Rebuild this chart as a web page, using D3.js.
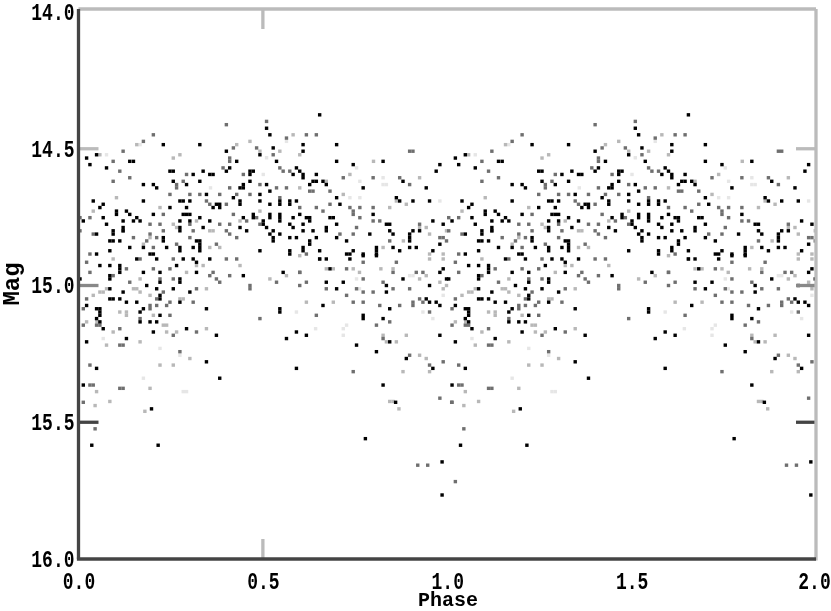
<!DOCTYPE html>
<html>
<head>
<meta charset="utf-8">
<script src="https://d3js.org/d3.v7.min.js"></script>
<style>
  html, body { margin: 0; padding: 0; background: #fff; overflow: hidden; }
  text { font-family: "Liberation Mono", monospace; font-weight: bold; fill: #000; }
</style>
</head>
<body>
<div id="my_dataviz"></div>
<script>
// Phased light curve, the phase 0-1 points are plotted again at 1-2
const phaseTicks = [0, 0.5, 1, 1.5, 2]
const magTicks = [14, 14.5, 15, 15.5, 16]

// [phase, mag], grouped by how dark the dot came out
const blackDots = [
  [.510,14.425],[.230,14.485],[.329,14.485],[.401,14.509],[.049,14.522],[.492,14.522],[.022,14.534],[.139,14.546],[.149,14.546],[.429,14.546],
  [.031,14.558],[.076,14.570],[.410,14.570],[.401,14.582],[.248,14.582],[.257,14.582],[.338,14.582],[.465,14.582],[.474,14.582],[.311,14.594],
  [.356,14.594],[.365,14.594],[.465,14.594],[.257,14.619],[.329,14.619],[.465,14.619],[.176,14.631],[.203,14.631],[.293,14.631],[.447,14.631],
  [.510,14.631],[.212,14.643],[.438,14.643],[.447,14.643],[.347,14.667],[.492,14.667],[.420,14.679],[.040,14.691],[.176,14.691],[.275,14.691],
  [.284,14.691],[.302,14.691],[.438,14.691],[.492,14.691],[.374,14.703],[.383,14.703],[.438,14.703],[.067,14.703],[.058,14.715],[.248,14.715],
  [.293,14.715],[.365,14.715],[.383,14.715],[.103,14.728],[.130,14.728],[.103,14.740],[.139,14.740],[.203,14.740],[.284,14.740],[.293,14.740],
  [.302,14.740],[.474,14.740],[.067,14.752],[.158,14.752],[.329,14.752],[.447,14.752],[.474,14.752],[.013,14.764],[.121,14.764],[.149,14.764],
  [.167,14.764],[.275,14.764],[.302,14.764],[.356,14.764],[.501,14.764],[.076,14.776],[.121,14.788],[.275,14.788],[.338,14.788],[.438,14.788],
  [.510,14.788],[.121,14.800],[.275,14.800],[.094,14.800],[.456,14.800],[.049,14.812],[.094,14.812],[.230,14.825],[.230,14.837],[.320,14.837],
  [.085,14.837],[.094,14.837],[.112,14.837],[.329,14.837],[.329,14.849],[.329,14.861],[.176,14.861],[.139,14.861],[.239,14.861],[.275,14.861],
  [.311,14.861],[.085,14.873],[.275,14.873],[.329,14.873],[.492,14.873],[.049,14.885],[.194,14.885],[.203,14.885],
  [.654,14.376],[.519,14.449],[.609,14.485],[.700,14.485],[.528,14.497],[.609,14.509],[.537,14.546],[.700,14.546],[.826,14.546],[.745,14.558],
  [.980,14.558],[.591,14.570],[.600,14.582],[.970,14.582],[.582,14.594],[.609,14.594],[.645,14.594],[.609,14.606],[.636,14.619],[.645,14.619],
  [.663,14.619],[.880,14.619],[.627,14.631],[.672,14.631],[.772,14.643],[.943,14.643],[.519,14.655],[.700,14.679],[.862,14.679],[.573,14.691],
  [.591,14.691],[.546,14.691],[.546,14.703],[.907,14.691],[.952,14.691],[.871,14.691],[.519,14.703],[.573,14.703],[.709,14.703],[.799,14.740],
  [.519,14.740],[.519,14.752],[.546,14.740],[.546,14.752],[.546,14.764],[.582,14.752],[.618,14.752],[.627,14.752],[.682,14.752],[.691,14.752],
  [.600,14.740],[.961,14.764],[.835,14.776],[.844,14.776],[.501,14.776],[.700,14.776],[.609,14.776],[.627,14.764],[.573,14.776],[.989,14.776],
  [.582,14.788],[.672,14.788],[.528,14.800],[.609,14.800],[.636,14.800],[.672,14.800],[.844,14.800],[.925,14.800],[.907,14.800],[.519,14.812],
  [.546,14.812],[.790,14.812],[.853,14.812],[.898,14.812],[.898,14.825],[.898,14.837],[.573,14.825],[.528,14.825],[.591,14.825],[.645,14.825],
  [.700,14.825],[.528,14.837],[.627,14.837],[.727,14.837],[.627,14.849],[.980,14.849],[.609,14.861],[.609,14.873],[.853,14.861],[.898,14.861],
  [.916,14.861],[.808,14.861],[.808,14.873],[.808,14.885],[.745,14.873],[.573,14.873],[.573,14.885],[.961,14.873],[.871,14.873],[.654,14.873],
  [.772,14.885],[.727,14.885],[.736,14.885],
  [.158,14.903],[.212,14.903],[.284,14.903],[.311,14.903],[.356,14.903],[.320,14.915],[.058,14.927],[.085,14.927],[.112,14.927],[.112,14.939],
  [.112,14.952],[.266,14.927],[.176,14.952],[.221,14.952],[.320,14.952],[.447,14.964],[.085,14.964],[.085,14.976],[.004,14.976],[.275,14.976],
  [.275,14.988],[.221,14.988],[.185,15.000],[.085,15.012],[.212,15.012],[.257,15.012],[.302,15.024],[.121,15.024],[.221,15.036],[.221,15.049],
  [.085,15.049],[.094,15.049],[.112,15.049],[.130,15.061],[.158,15.061],[.275,15.061],[.022,15.073],[.049,15.085],[.058,15.085],[.176,15.085],
  [.347,15.085],[.058,15.097],[.167,15.097],[.058,15.109],[.221,15.109],[.049,15.121],[.058,15.133],[.167,15.133],[.194,15.133],[.212,15.133],
  [.067,15.158],[.293,15.158],[.203,15.170],[.374,15.182],[.130,15.194],[.022,15.206],[.347,15.279],[.049,15.303],[.383,15.339],[.013,15.364],
  [.654,14.903],[.672,14.903],[.736,14.903],[.772,14.891],[.808,14.891],[.682,14.939],[.989,14.939],[.555,14.952],[.980,14.952],[.880,14.976],
  [.998,14.976],[.672,14.988],[.718,14.988],[.835,15.000],[.952,15.000],[.700,15.012],[.835,15.024],[.943,15.049],[.952,15.061],[.970,15.061],
  [.980,15.073],[.663,15.073],[.844,15.085],[.546,15.085],[.546,15.097],[.772,15.109],[.772,15.121],[.826,15.121],[.591,15.170],[.618,15.182],
  [.564,15.194],[.980,15.182],[.844,15.206],[.754,15.218],[.808,15.242],[.889,15.267],[.591,15.303],[.961,15.303],[.826,15.364],
  [.036,15.584],[.216,15.584],[.198,15.451],[.778,15.560],[.986,15.645],[.986,15.766],[.860,15.427]
]
const greyDots = [
  [.401,14.412],[.510,14.400],[.203,14.449],[.176,14.473],[.420,14.497],[.483,14.497],[.121,14.509],[.410,14.534],[.094,14.546],[.410,14.546],
  [.392,14.570],[.112,14.582],[.293,14.594],[.447,14.594],[.139,14.606],[.094,14.619],[.284,14.619],[.266,14.631],[.492,14.631],[.266,14.643],
  [.410,14.643],[.248,14.667],[.302,14.667],[.329,14.667],[.347,14.691],[.383,14.667],[.429,14.667],[.465,14.667],[.356,14.703],[.401,14.703],
  [.031,14.752],[.004,14.752],[.230,14.740],[.420,14.740],[.483,14.752],[.492,14.776],[.194,14.776],[.221,14.776],[.302,14.776],[.383,14.776],
  [.410,14.776],[.004,14.800],[.040,14.812],[.121,14.800],[.194,14.812],[.212,14.825],[.230,14.800],[.311,14.800],[.410,14.812],[.429,14.825],
  [.149,14.825],[.185,14.837],[.266,14.849],[.302,14.825],[.374,14.849],[.031,14.885],[.203,14.861],[.401,14.800],[.456,14.764],
  [.564,14.461],[.618,14.449],[.645,14.449],[.528,14.522],[.898,14.509],[.907,14.509],[.546,14.570],[.555,14.582],[.573,14.582],[.718,14.606],
  [.799,14.606],[.871,14.606],[.898,14.631],[.537,14.643],[.564,14.643],[.627,14.655],[.636,14.655],[.682,14.655],[.546,14.679],[.736,14.715],
  [.763,14.715],[.799,14.715],[.745,14.728],[.745,14.740],[.600,14.715],[.663,14.728],[.645,14.715],[.682,14.703],[.763,14.752],[.799,14.764],
  [.817,14.764],[.925,14.776],[.754,14.788],[.745,14.812],[.709,14.812],[.980,14.825],[.989,14.825],[.998,14.837],[.844,14.837],[.618,14.885],
  [.654,14.903],[.727,14.939],[.600,14.952],[.537,14.988],[.618,14.988],[.600,15.000],[.672,15.012],[.754,15.012],[.853,15.012],[.898,15.012],
  [.727,15.036],[.772,15.024],[.799,15.024],[.745,15.061],[.772,15.061],[.817,15.073],[.871,15.073],[.907,15.061],[.907,15.073],[.925,15.049],
  [.934,15.061],[.952,15.097],[.645,15.109],[.844,15.133],[.808,15.145],[.826,15.194],[.898,15.255],[.989,15.279],[.952,15.291],[.745,15.315],
  [.980,15.412],[.772,14.976],[.826,14.988],[.853,14.952],[.916,14.952],[.934,14.952],[.600,14.952],[.772,14.915],[.862,14.915],
  [.167,14.903],[.257,14.903],[.429,14.903],[.401,14.903],[.022,14.915],[.130,14.939],[.203,14.939],[.248,14.939],[.031,14.952],[.365,14.952],
  [.410,14.964],[.356,14.964],[.094,14.964],[.221,14.976],[.257,14.976],[.374,14.976],[.139,14.988],[.383,14.988],[.465,15.000],[.465,15.012],
  [.320,15.012],[.230,15.024],[.022,15.049],[.212,15.049],[.311,15.061],[.248,15.061],[.194,15.073],[.212,15.073],[.239,15.073],[.013,15.085],
  [.194,15.085],[.248,15.109],[.167,15.121],[.492,15.121],[.013,15.145],[.049,15.145],[.058,15.145],[.112,15.158],[.320,15.170],[.257,15.182],
  [.112,15.218],[.121,15.218],[.275,15.242],[.031,15.291],[.031,15.364],[.040,15.364],[.112,15.376],[.121,15.376],[.013,15.427],
  [.045,15.524],[.920,15.657],[.947,15.657],[1.022,15.717],[1.012,15.427]
]
const paleDots = [
  [.465,14.473],[.158,14.485],[.429,14.485],[.257,14.534],[.492,14.509],[.058,14.522],[.275,14.522],[.582,14.449],[.546,14.509],[.600,14.522],
  [.800,14.546],[.736,14.594],[.672,14.619],[.925,14.606],[.600,14.643],[.718,14.667],[.862,14.691],[.889,14.703],[.844,14.715],[.925,14.788],
  [.943,14.788],[.998,14.800],[.952,14.812],[.881,14.837],[.826,14.861],[.989,14.885],[.952,14.885],[.040,14.728],[.103,14.679],[.221,14.715],
  [.257,14.776],[.320,14.764],[.356,14.800],[.365,14.800],[.438,14.764],[.492,14.728],[.356,14.861],[.383,14.861],[.176,14.849],[.194,14.825],
  [.266,14.788],[.094,14.903],[.338,14.927],[.438,14.927],[.320,14.927],[.167,14.976],[.293,14.952],[.058,15.024],[.067,15.024],[.149,15.012],
  [.158,15.012],[.167,15.024],[.347,15.012],[.040,15.036],[.194,15.036],[.275,15.049],[.284,15.049],[.050,15.133],[.022,15.133],[.203,15.109],
  [.112,15.097],[.076,15.012],[.130,15.097],[.130,15.109],[.230,15.145],[.239,15.145],[.347,15.158],[.094,15.170],[.239,15.170],[.266,15.170],
  [.167,15.206],[.076,15.218],[.302,15.267],[.221,15.291],[.257,15.291],[.049,15.388],[.085,15.424],[.194,15.376],
  [.519,14.976],[.600,14.891],[.762,14.952],[.820,14.939],[.853,14.939],[.745,14.939],[.672,14.939],[.691,14.939],[.952,14.903],[.989,14.903],
  [.564,14.964],[.925,14.976],[.943,14.964],[.980,14.988],[.998,15.000],[.989,15.012],[.618,15.061],[.691,15.061],[.826,15.182],[.889,15.182],
  [.862,15.206],[.835,15.206],[.925,15.255],[.943,15.267],[.880,15.315],[.952,15.315],[.844,15.424],[.853,15.424],[.869,15.451],[.180,15.460],[.045,15.439]
]
const fade = [
  [.167,14.485],[.076,14.522],[.510,14.533],[.564,14.473],[.754,14.570],[.501,14.594],[.763,14.619],[.826,14.606],[.772,14.643],[.826,14.631],
  [.835,14.631],[.358,14.643],[.736,14.679],[.763,14.679],[.980,14.691],[.591,15.097],[.934,15.097],[.961,15.121],[.643,15.158],[.727,15.145],
  [.718,15.158],[.718,15.182],[.898,14.964],[.907,14.964],[.754,14.976],[.762,15.012],[.989,15.036],[.221,15.230],[.275,15.255],[.176,15.339],
  [.067,15.194],[.284,15.388],[.293,15.388]
]
const dotColors = {blackDots: "#000", greyDots: "#6f6f6f", paleDots: "#b8b8b8", fade: "#e6e6e6"}

// Dimensions du graphique
const width_chart = 831
const height_chart = 611
const frame = {top: 9, right: 816, bottom: 559, left: 78.5}
const dot = 3.4
const tick = 20

const svg = d3.select("#my_dataviz")
  .append("svg")
    .attr("width", width_chart)
    .attr("height", height_chart)
    .style("display", "block")

svg.append("defs").append("filter")
    .attr("id", "soft")
  .append("feGaussianBlur")
    .attr("stdDeviation", 0.5)

const x = d3.scaleLinear().domain([0, 2]).range([frame.left, frame.right])
const y = d3.scaleLinear().domain([14, 16]).range([12, frame.bottom])

// Points, pale ones first so the dark ones stay on top
const drawDots = function(points, color) {
  const both = points.concat(points.map(d => [d[0] + 1, d[1]])).filter(d => d[0] <= 2)
  svg.append("g")
    .selectAll("rect")
    .data(both)
    .join("rect")
      .attr("x", d => x(d[0]) - dot / 2)
      .attr("y", d => y(d[1]) - dot / 2)
      .attr("width", dot)
      .attr("height", dot)
      .attr("fill", color)
}
drawDots(fade, dotColors.fade)
drawDots(paleDots, dotColors.paleDots)
drawDots(greyDots, dotColors.greyDots)
drawDots(blackDots, dotColors.blackDots)

// Inner ticks, only those that survive in the picture
const tickColor = d => d === 15.5 ? "#444" : d === 15 ? "#888" : "#bbb"
const innerMag = magTicks.slice(1, 4)
svg.selectAll("line.left").data(innerMag).join("line")
    .attr("class", "left")
    .attr("x1", frame.left).attr("x2", frame.left + tick)
    .attr("y1", d => y(d)).attr("y2", d => y(d))
    .attr("stroke", tickColor).attr("stroke-width", 3.3)
svg.selectAll("line.right").data(innerMag).join("line")
    .attr("class", "right")
    .attr("x1", frame.right - tick).attr("x2", frame.right)
    .attr("y1", d => y(d)).attr("y2", d => y(d))
    .attr("stroke", tickColor).attr("stroke-width", 3.3)
svg.selectAll("line.top").data([0.5]).join("line")
    .attr("class", "top")
    .attr("x1", d => x(d)).attr("x2", d => x(d))
    .attr("y1", frame.top).attr("y2", frame.top + tick)
    .attr("stroke", "#bbb").attr("stroke-width", 3.3)
svg.selectAll("line.bottom").data([0.5]).join("line")
    .attr("class", "bottom")
    .attr("x1", d => x(d)).attr("x2", d => x(d))
    .attr("y1", frame.bottom - tick).attr("y2", frame.bottom)
    .attr("stroke", "#bbb").attr("stroke-width", 3.3)

// Cadre
const edge = (x1, y1, x2, y2, color) => svg.append("line")
    .attr("x1", x1).attr("y1", y1).attr("x2", x2).attr("y2", y2)
    .attr("stroke", color).attr("stroke-width", 3.3)
edge(frame.left, frame.top, frame.right, frame.top, "#bbb")
edge(frame.right, frame.top, frame.right, frame.bottom + 1.6, "#bbb")
edge(frame.left, frame.top, frame.left, frame.bottom, "#444")
edge(frame.left - 1.6, frame.bottom, frame.right, frame.bottom, "#444")

// Axes, labels only; the digits are tall and narrow in the picture
const axisY = svg.append("g")
    .attr("transform", `translate(${frame.left - 4},0)`)
    .attr("filter", "url(#soft)")
    .call(d3.axisLeft(y).tickValues(magTicks).tickFormat(d3.format(".1f")).tickSize(0).tickPadding(0))
axisY.select(".domain").remove()
axisY.selectAll("text")
    .style("font-size", "18px")
    .style("font-family", null)
    .attr("transform", "scale(1,1.3)")

const axisX = svg.append("g")
    .attr("transform", `translate(0,${frame.bottom + 13})`)
    .attr("filter", "url(#soft)")
    .call(d3.axisBottom(x).tickValues(phaseTicks).tickFormat(d3.format(".1f")).tickSize(0).tickPadding(0))
axisX.select(".domain").remove()
axisX.selectAll("text")
    .style("font-size", "18px")
    .style("font-family", null)
    .attr("transform", "scale(1,1.3)")
axisX.selectAll(".tick")
    .filter(d => d === 2)
    .select("text")
    .attr("x", -2)

svg.append("text")
    .attr("x", 448)
    .attr("y", 606)
    .attr("text-anchor", "middle")
    .attr("filter", "url(#soft)")
    .style("font-size", "20px")
    .text("Phase")

svg.append("text")
    .attr("transform", "translate(19,284)rotate(-90)")
    .attr("text-anchor", "middle")
    .attr("filter", "url(#soft)")
    .style("font-size", "24px")
    .text("Mag")
</script>
</body>
</html>
